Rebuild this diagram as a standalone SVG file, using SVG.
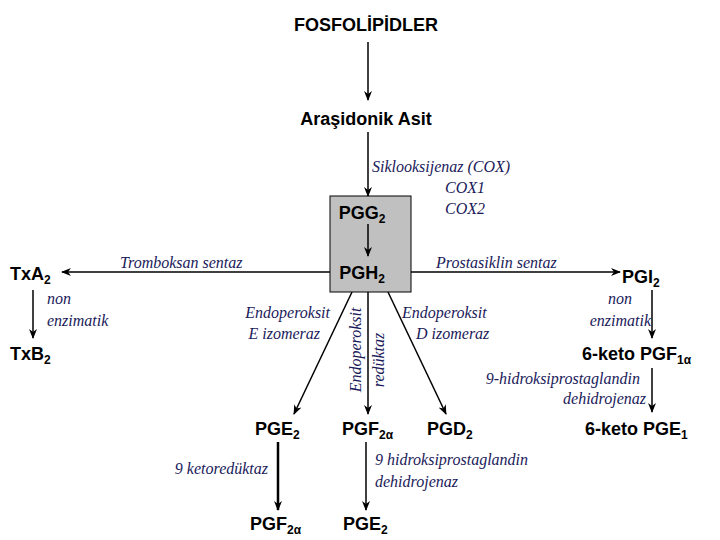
<svg xmlns="http://www.w3.org/2000/svg" width="720" height="540" viewBox="0 0 720 540">
<defs>
<marker id="ah" markerWidth="10" markerHeight="10" refX="9" refY="5" orient="auto" markerUnits="userSpaceOnUse"><path d="M0,1 L10,5 L0,9 L3,5 Z" fill="#000"/></marker>
<style>
.n{font-family:"Liberation Sans",Arial,sans-serif;font-weight:bold;font-size:18px;fill:#000}
.s{font-size:12px}
.e{font-family:"Liberation Serif","DejaVu Serif",serif;font-style:italic;font-size:16px;fill:#1a1a5a}
.c{stroke:#000;stroke-width:1.5;fill:none;marker-end:url(#ah)}
.t{stroke-width:2.5}
</style>
</defs>
<rect width="720" height="540" fill="#fff"/>
<g id="box"><rect x="330" y="196" width="81" height="96" fill="#c0c0c0" stroke="#000" stroke-width="1"/></g>
<g id="connectors">
<line class="c" x1="368" y1="42" x2="368" y2="100"/>
<line class="c" x1="368" y1="132" x2="368" y2="196"/>
<line class="c" x1="368" y1="224" x2="368" y2="256"/>
<line class="c" x1="330" y1="272" x2="62" y2="272"/>
<line class="c" x1="411" y1="272" x2="620" y2="272"/>
<line class="c" x1="33" y1="290" x2="33" y2="338"/>
<line class="c" x1="652" y1="290" x2="652" y2="338"/>
<line class="c" x1="652" y1="368" x2="652" y2="412"/>
<line class="c" x1="352" y1="292" x2="294" y2="414"/>
<line class="c" x1="368" y1="292" x2="368" y2="414"/>
<line class="c" x1="388" y1="292" x2="446" y2="414"/>
<line class="c t" x1="278" y1="442" x2="278" y2="510"/>
<line class="c" x1="366" y1="442" x2="366" y2="510"/>
</g>
<g id="fosfolipidler"><text class="n" x="366" y="31" text-anchor="middle">FOSFOLİPİDLER</text></g>
<g id="arasidonik"><text class="n" x="366" y="125" text-anchor="middle">Araşidonik Asit</text></g>
<g id="pgg2"><text class="n" x="362" y="219" text-anchor="middle">PGG<tspan class="s" dy="4">2</tspan></text></g>
<g id="pgh2"><text class="n" x="362" y="279" text-anchor="middle">PGH<tspan class="s" dy="4">2</tspan></text></g>
<g id="txa2"><text class="n" x="10" y="280">TxA<tspan class="s" dy="4">2</tspan></text></g>
<g id="txb2"><text class="n" x="10" y="360">TxB<tspan class="s" dy="4">2</tspan></text></g>
<g id="pgi2"><text class="n" x="622" y="283">PGI<tspan class="s" dy="4">2</tspan></text></g>
<g id="ketopgf"><text class="n" x="582" y="360">6-keto PGF<tspan class="s" dy="4">1α</tspan></text></g>
<g id="ketopge"><text class="n" x="585" y="435">6-keto PGE<tspan class="s" dy="4">1</tspan></text></g>
<g id="pge2"><text class="n" x="255" y="435">PGE<tspan class="s" dy="4">2</tspan></text></g>
<g id="pgf2a"><text class="n" x="342" y="435">PGF<tspan class="s" dy="4">2α</tspan></text></g>
<g id="pgd2"><text class="n" x="427" y="435">PGD<tspan class="s" dy="4">2</tspan></text></g>
<g id="pgf2a2"><text class="n" x="250" y="530">PGF<tspan class="s" dy="4">2α</tspan></text></g>
<g id="pge2b"><text class="n" x="343" y="530">PGE<tspan class="s" dy="4">2</tspan></text></g>
<g id="labels">
<text class="e" x="372" y="172">Siklooksijenaz (COX)</text>
<text class="e" x="465" y="193" text-anchor="middle">COX1</text>
<text class="e" x="465" y="214" text-anchor="middle">COX2</text>
<text class="e" x="120" y="268">Tromboksan sentaz</text>
<text class="e" x="436" y="268">Prostasiklin sentaz</text>
<text class="e" x="47" y="304">non</text>
<text class="e" x="47" y="326">enzimatik</text>
<text class="e" x="620" y="304" text-anchor="middle">non</text>
<text class="e" x="651" y="326" text-anchor="end">enzimatik</text>
<text class="e" x="330" y="318" text-anchor="end">Endoperoksit</text>
<text class="e" x="320" y="339" text-anchor="end">E izomeraz</text>
<text class="e" x="402" y="318">Endoperoksit</text>
<text class="e" x="416" y="339">D izomeraz</text>
<text class="e" transform="translate(361,350) rotate(-90)" text-anchor="middle">Endoperoksit</text>
<text class="e" transform="translate(384,360) rotate(-90)" text-anchor="middle">redüktaz</text>
<text class="e" x="640" y="384" text-anchor="end">9-hidroksiprostaglandin</text>
<text class="e" x="646" y="404" text-anchor="end">dehidrojenaz</text>
<text class="e" x="268" y="474" text-anchor="end">9 ketoredüktaz</text>
<text class="e" x="375" y="465">9 hidroksiprostaglandin</text>
<text class="e" x="375" y="487">dehidrojenaz</text>
</g>
</svg>
